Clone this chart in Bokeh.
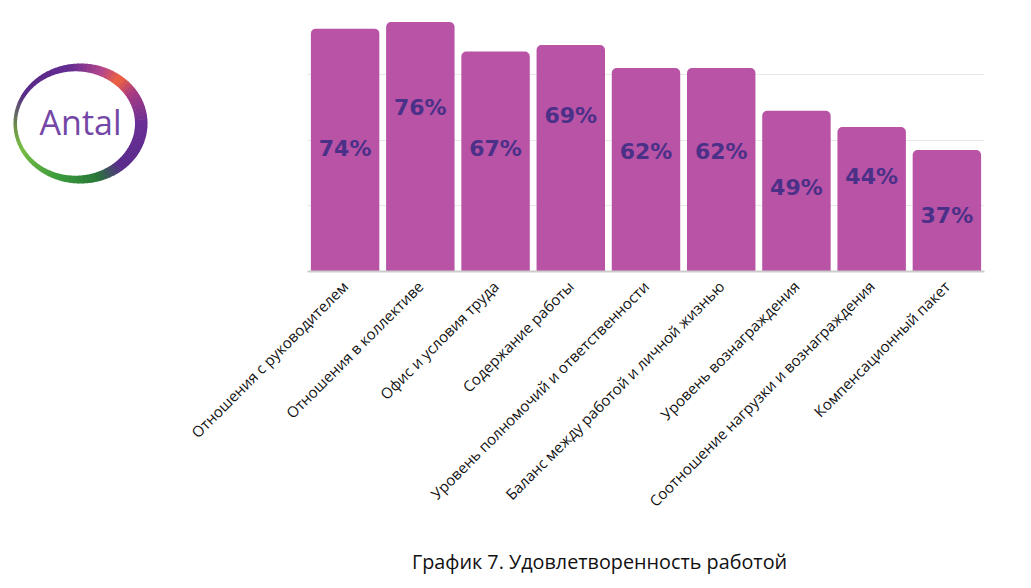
import numpy as np
from bokeh.plotting import figure
from bokeh.layouts import row, column
from bokeh.models import Range1d, FixedTicker, ColumnDataSource
from bokeh.core.properties import value
from bokeh.embed import file_html
from bokeh.resources import INLINE

categories = [
    "Отношения с руководителем",
    "Отношения в коллективе",
    "Офис и условия труда",
    "Содержание работы",
    "Уровень полномочий и ответственности",
    "Баланс между работой и личной жизнью",
    "Уровень вознаграждения",
    "Соотношение нагрузки и вознаграждения",
    "Компенсационный пакет",
]
values = [74, 76, 67, 69, 62, 62, 49, 44, 37]
label_y = [37.5, 50.0, 37.5, 47.5, 36.5, 36.5, 25.5, 29.0, 17.0]
pct_labels = [f"{v}%" for v in values]
caption = "График 7. Удовлетворенность работой"
logo_text = "Antal"

BAR = "#b853a6"
LBL = "#4b3088"
TOP_H = 520

# ---------------- logo figure ----------------
lg = figure(frame_width=160, frame_height=TOP_H, x_range=Range1d(0, 160), y_range=Range1d(0, TOP_H),
            output_backend="svg", toolbar_location=None, min_border=0)
lg.title.visible = False
lg.axis.visible = False
lg.grid.visible = False
lg.outline_line_color = None

stops = [(0, (106, 47, 149)), (35, (170, 60, 130)), (52, (240, 100, 60)), (70, (180, 70, 140)),
         (100, (100, 45, 145)), (150, (88, 42, 138)), (185, (110, 150, 70)), (205, (120, 190, 70)),
         (250, (60, 155, 60)), (285, (40, 120, 55)), (310, (90, 44, 140)), (360, (106, 47, 149))]

def col_at(a):
    for (a0, c0), (a1, c1) in zip(stops[:-1], stops[1:]):
        if a0 <= a <= a1:
            t = (a - a0) / (a1 - a0)
            c = [int(c0[i] + (c1[i] - c0[i]) * t) for i in range(3)]
            return "#%02x%02x%02x" % tuple(c)
    return "#6a2f95"

cx, cy, rx, ry = 80, TOP_H - 108, 67, 60
xs, ys, cs = [], [], []
step = 4
for a in range(0, 360, step):
    th = np.radians(np.linspace(a, a + step + 0.6, 6))
    thick = 8 + 4.5 * np.cos(th)
    ox = cx + rx * np.cos(th)
    oy = cy + ry * np.sin(th)
    ix = cx + (rx - thick) * np.cos(th)
    iy = cy + (ry - thick) * np.sin(th)
    xs.append(list(ox) + list(ix[::-1]))
    ys.append(list(oy) + list(iy[::-1]))
    cs.append(col_at(a + step / 2))
lg.patches(xs=xs, ys=ys, fill_color=cs, line_color=None)
lg.text(x=[80], y=[cy + 2], text=[logo_text], text_align="center", text_baseline="middle",
        text_font=value("Open Sans"), text_font_size="34px", text_color="#7446a6")

# ---------------- main chart ----------------
p = figure(width=871, height=TOP_H, x_range=categories, y_range=Range1d(0, 78),
           output_backend="svg", toolbar_location=None,
           min_border_left=147, min_border_right=47, min_border_top=15,
           min_border_bottom=TOP_H - 271)
p.outline_line_color = None
p.yaxis.visible = False
p.xgrid.visible = False
p.ygrid.ticker = FixedTicker(ticks=[20, 40, 60])
p.ygrid.grid_line_color = "#e8e8e8"

src = ColumnDataSource(dict(cat=categories, val=values, ly=label_y, lbl=pct_labels))
p.vbar(x="cat", top="val", width=0.91, source=src, fill_color=BAR, line_color=None,
       border_radius=(5, 5, 0, 0))
p.text(x="cat", y="ly", text="lbl", source=src, text_align="center", text_baseline="middle",
       text_font=value("DejaVu Sans"), text_font_style="bold", text_font_size="22px",
       text_color=LBL)

p.xaxis.axis_line_color = "#cccccc"
p.xaxis.axis_line_width = 2
p.xaxis.major_tick_line_color = None
p.xaxis.minor_tick_line_color = None
p.xaxis.major_label_orientation = np.pi / 4
p.xaxis.major_label_text_font = "Open Sans"
p.xaxis.major_label_text_font_size = "15px"
p.xaxis.major_label_text_color = "#111111"
p.xaxis.major_label_standoff = 6

# ---------------- caption strip ----------------
cap_h = 588 - TOP_H
cap = figure(frame_width=1031, frame_height=cap_h, x_range=Range1d(0, 1031), y_range=Range1d(0, cap_h),
             output_backend="svg", toolbar_location=None, min_border=0)
cap.title.visible = False
cap.axis.visible = False
cap.grid.visible = False
cap.outline_line_color = None
cap.text(x=[599], y=[588 - 561], text=[caption], text_align="center", text_baseline="middle",
         text_font=value("Open Sans"), text_font_size="19.8px", text_color="#111111")

layout = column(row(lg, p), cap)
open("out.html", "w").write(file_html(layout, INLINE))
